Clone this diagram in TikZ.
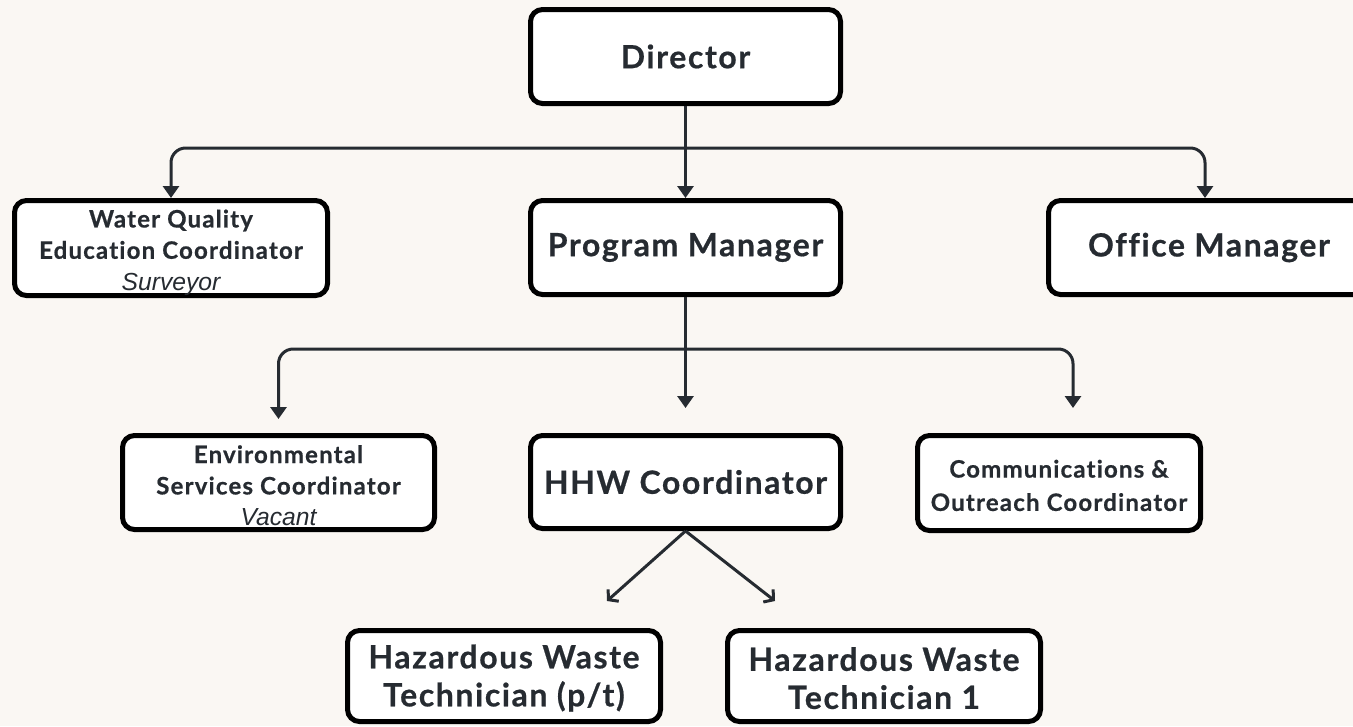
\documentclass[tikz,border=0pt]{standalone}
\usepackage{fontspec}
\setmainfont{Lato}
\newfontfamily\labfont{Lato}[LetterSpace=5,Ligatures={NoCommon},BoldFeatures={FakeBold=0.6}]
\newfontfamily\subfont{Liberation Sans}
\usetikzlibrary{arrows.meta}
\definecolor{bg}{HTML}{FAF7F3}
\definecolor{ink}{HTML}{262B31}
\newcommand{\lowerby}[1]{\rule{0pt}{#1}}
\begin{document}
\begin{tikzpicture}[x=0.75pt,y=-0.75pt,
  box/.style={draw=black, line width=3.75pt, fill=white, rounded corners=9pt, align=center, text=ink, inner sep=0pt},
  big/.style={font=\labfont\bfseries\fontsize{24}{28.5}\selectfont},
  small/.style={font=\labfont\bfseries\fontsize{18}{23.5}\selectfont},
  conn/.style={draw=ink, line width=2.25pt, rounded corners=11pt, -{Triangle[width=12pt,length=9pt]}},
  barb/.style={draw=ink, line width=2.25pt, -{Straight Barb[length=5pt,width=12pt]}}
]
\useasboundingbox (0,0) rectangle (1353,726);
\clip (0,0) rectangle (1353,726);
\fill[bg] (0,0) rectangle (1353,726);

\node[box, big, minimum width=310*0.75pt, minimum height=94*0.75pt] (dir) at (685.5,56.5) {Director};
\node[box, small, minimum width=313*0.75pt, minimum height=95*0.75pt] (wq) at (171,248) {\lowerby{20pt}Water Quality\\Education Coordinator\\{\subfont\itshape\mdseries\fontsize{18.5}{23.5}\selectfont Surveyor}};
\node[box, big, minimum width=310*0.75pt, minimum height=94*0.75pt] (pm) at (685.5,247.5) {Program Manager};
\node[box, big, minimum width=321*0.75pt, minimum height=94*0.75pt] (om) at (1209,247.5) {Office Manager};
\node[box, small, minimum width=312*0.75pt, minimum height=94*0.75pt] (env) at (278.5,482.5) {\lowerby{18pt}Environmental\\Services Coordinator\\{\subfont\itshape\mdseries\fontsize{18.5}{23.5}\selectfont Vacant}};
\node[box, big, minimum width=310*0.75pt, minimum height=93*0.75pt] (hhw) at (685.5,482) {HHW Coordinator};
\node[box, small, font=\labfont\bfseries\fontsize{18}{25}\selectfont, minimum width=283*0.75pt, minimum height=95*0.75pt] (com) at (1059,483) {\lowerby{17pt}Communications \&\\Outreach Coordinator};
\node[box, big, minimum width=313*0.75pt, minimum height=91*0.75pt] (t1) at (504,676) {\lowerby{21pt}Hazardous Waste\\Technician (p/t)};
\node[box, big, minimum width=313*0.75pt, minimum height=91*0.75pt] (t2) at (884,676) {\lowerby{21pt}Hazardous Waste\\Technician 1};

% top level connectors
\coordinate (j1) at (685.5,148);
\draw[conn] (dir.south) -- (pm.north);
\draw[conn] (j1) -| (wq.north);
\draw[conn] (j1) -| ([xshift=-3pt]om.north);

% second level connectors
\coordinate (j2) at (685.5,349);
\coordinate (a1) at (278.5,419);
\coordinate (a2) at (685.5,408);
\coordinate (a3) at (1073,408);
\draw[conn] (pm.south) -- (a2);
\draw[conn] (j2) -| (a1);
\draw[conn] (j2) -| (a3);

% HHW to technicians
\coordinate (b1) at (607,601);
\coordinate (b2) at (775,601);
\draw[barb] (hhw.south) -- (b1);
\draw[barb] (hhw.south) -- (b2);
\end{tikzpicture}
\end{document}
